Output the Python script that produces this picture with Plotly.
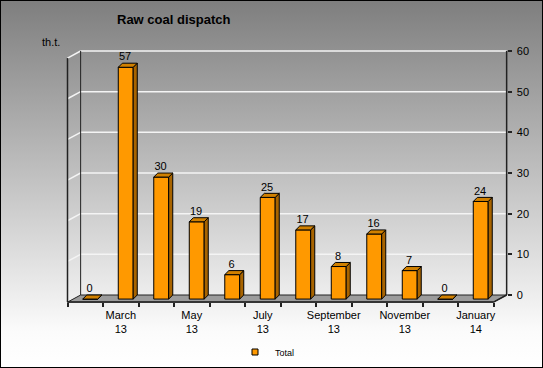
import base64
import plotly.graph_objects as go

# ---------------- data ----------------
categories = ["February 13", "March 13", "April 13", "May 13", "June 13", "July 13",
              "August 13", "September 13", "October 13", "November 13", "December 13", "January 14"]
values = [0, 57, 30, 19, 6, 25, 17, 8, 16, 7, 0, 24]
label_positions = [1, 3, 5, 7, 9, 11]
tick_labels = ["March<br>13", "May<br>13", "July<br>13", "September<br>13", "November<br>13", "January<br>14"]
y_ticks = [0, 10, 20, 30, 40, 50, 60]
series_name = "Total"
title_text = "Raw coal dispatch"
unit_text = "th.t."

# ---------------- geometry / style ----------------
W, H = 543, 368
PX_X = 35.5           # px per category
X0_PX = 85.25         # px of category 0
Y0_PX = 295.0         # px of value 0 (back wall)
PX_Y = 244.0 / 60.0   # px per unit

x_range = [-X0_PX / PX_X, (W - X0_PX) / PX_X]
y_range = [(Y0_PX - H) / PX_Y, Y0_PX / PX_Y]

idx = list(range(len(values)))
bar_off, bar_w = -0.07, 0.42
bdx, bdy = 0.115, 1.0
base_level = -1.0

fdx, fdy = 0.37, 1.75          # floor / wall depth
xl_front, xr_front = -0.5, len(values) - 0.5
xl_back, xr_back = xl_front + fdx, xr_front + fdx
ymax = max(y_ticks)

ORANGE = "#FF9900"
SIDE = "#A86400"
TOP = "#D08000"

fig = go.Figure()

# front faces of the bars
fig.add_trace(go.Bar(
    x=idx, y=values, base=base_level, width=bar_w, offset=bar_off,
    marker=dict(color=ORANGE, line=dict(color="black", width=1)),
    name=series_name, hoverinfo="skip", showlegend=False,
))

# side and top faces
sx, sy = [], []
tx, ty = [], []
for i, v in zip(idx, values):
    x0 = i + bar_off
    x1 = x0 + bar_w
    sx += [x1, x1 + bdx, x1 + bdx, x1, x1, None]
    sy += [base_level, base_level + bdy, v - 1 + bdy, v - 1, base_level, None]
    tx += [x0, x1, x1 + bdx, x0 + bdx, x0, None]
    ty += [v - 1, v - 1, v - 1 + bdy, v - 1 + bdy, v - 1, None]

fig.add_trace(go.Scatter(x=sx, y=sy, mode="lines", fill="toself", fillcolor=SIDE,
                         line=dict(color="black", width=1), showlegend=False, hoverinfo="skip"))
fig.add_trace(go.Scatter(x=tx, y=ty, mode="lines", fill="toself", fillcolor=TOP,
                         line=dict(color="black", width=1), showlegend=False, hoverinfo="skip"))

# data labels
fig.add_trace(go.Scatter(
    x=[i + 0.12 for i in idx], y=values, mode="text", text=[str(v) for v in values],
    textposition="top center", textfont=dict(family="Liberation Sans, Arial", size=11, color="black"),
    showlegend=False, hoverinfo="skip", cliponaxis=False,
))

# legend entry for the series
fig.add_trace(go.Scatter(
    x=[None], y=[None], mode="markers", name=series_name,
    marker=dict(symbol="square", size=6, color=ORANGE, line=dict(color="black", width=1)),
    showlegend=True, hoverinfo="skip",
))

shapes = []
# floor
shapes.append(dict(type="path", xref="x", yref="y", layer="below",
                   path=f"M{xl_front},{-fdy} L{xr_front},{-fdy} L{xr_back},0 L{xl_back},0 Z",
                   fillcolor="#9c9c9c", line=dict(color="#222222", width=1)))
# gridlines on back and left walls
for g in y_ticks[1:]:
    shapes.append(dict(type="line", xref="x", yref="y", layer="below",
                       x0=xl_back, y0=g, x1=xr_back, y1=g, line=dict(color="#f4f4f4", width=1.5)))
    shapes.append(dict(type="line", xref="x", yref="y", layer="below",
                       x0=xl_front, y0=g - fdy, x1=xl_back, y1=g, line=dict(color="#f4f4f4", width=1.5)))
# wall edges
shapes.append(dict(type="line", xref="x", yref="y", layer="below",
                   x0=xl_front, y0=-fdy, x1=xl_front, y1=ymax - fdy, line=dict(color="#222222", width=1.5)))
shapes.append(dict(type="line", xref="x", yref="y", layer="below",
                   x0=xl_back, y0=0, x1=xl_back, y1=ymax, line=dict(color="#222222", width=1)))
shapes.append(dict(type="line", xref="x", yref="y", layer="below",
                   x0=xr_back, y0=0, x1=xr_back, y1=ymax, line=dict(color="#222222", width=1.5)))
shapes.append(dict(type="line", xref="x", yref="y", layer="below",
                   x0=xl_front, y0=-fdy, x1=xr_front, y1=-fdy, line=dict(color="#222222", width=1.5)))
shapes.append(dict(type="line", xref="x", yref="y", layer="below",
                   x0=xr_front, y0=-fdy, x1=xr_back, y1=0, line=dict(color="#222222", width=1.5)))
# outer border
shapes.append(dict(type="rect", xref="paper", yref="paper", x0=0, y0=0, x1=1, y1=1,
                   line=dict(color="black", width=2), layer="above"))

svg = (f"<svg xmlns='http://www.w3.org/2000/svg' width='{W}' height='{H}'>"
       "<defs><linearGradient id='g' x1='0' y1='0' x2='0' y2='1'>"
       "<stop offset='0' stop-color='#7e7e7e'/><stop offset='0.9' stop-color='#fbfbfb'/>"
       "<stop offset='1' stop-color='#ffffff'/></linearGradient></defs>"
       f"<rect width='{W}' height='{H}' fill='url(#g)'/></svg>")
bg_uri = "data:image/svg+xml;base64," + base64.b64encode(svg.encode()).decode()

axis_y_paper = (H - (Y0_PX + fdy * PX_Y)) / H
yaxis_x_paper = (X0_PX + xr_back * PX_X) / W

fig.update_layout(
    width=W, height=H,
    margin=dict(l=0, r=0, t=0, b=0),
    paper_bgcolor="rgba(0,0,0,0)", plot_bgcolor="rgba(0,0,0,0)",
    font=dict(family="Liberation Sans, Arial", color="black"),
    images=[dict(source=bg_uri, xref="paper", yref="paper", x=0, y=1, sizex=1, sizey=1,
                 sizing="stretch", xanchor="left", yanchor="top", layer="below")],
    shapes=shapes,
    showlegend=True,
    legend=dict(x=0.5 - 4 / W, xanchor="center", y=(H - 352) / H, yanchor="middle", orientation="h",
                bgcolor="rgba(0,0,0,0)", font=dict(size=9), itemwidth=30),
    xaxis=dict(range=x_range, domain=[0, 1], anchor="free", position=axis_y_paper,
               showgrid=False, zeroline=False, showline=False,
               tickmode="array", tickvals=label_positions, ticktext=tick_labels,
               ticks="", tickfont=dict(size=11), ticklabelstandoff=5,
               minor=dict(tickmode="array", tickvals=[i - 0.5 for i in range(len(values) + 1)],
                          ticks="outside", ticklen=4, tickcolor="#222222", tickwidth=1.5)),
    yaxis=dict(range=y_range, domain=[0, 1], side="right", anchor="free", position=yaxis_x_paper,
               showgrid=False, zeroline=False, showline=False,
               tickmode="array", tickvals=y_ticks, ticks="outside", ticklen=4,
               tickcolor="#222222", tickwidth=1.5, tickfont=dict(size=11), ticklabelstandoff=3),
    annotations=[
        dict(text=f"<b>{title_text}</b>", xref="paper", yref="paper", x=115 / W, y=1 - 19.5 / H,
             xanchor="left", yanchor="middle", showarrow=False, font=dict(size=13)),
        dict(text=unit_text, xref="paper", yref="paper", x=40 / W, y=1 - 42 / H,
             xanchor="left", yanchor="middle", showarrow=False, font=dict(size=11)),
    ],
)

fig.write_html("out.html", config={"displayModeBar": False},
               post_script="document.body.style.margin='0';document.body.style.overflow='hidden';")
